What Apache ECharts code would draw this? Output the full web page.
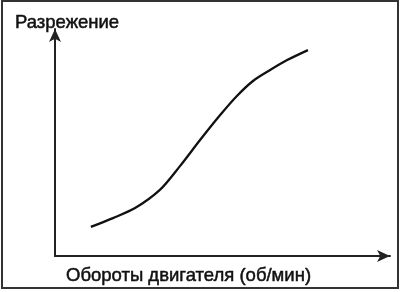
<!DOCTYPE html>
<html><head><meta charset="utf-8">
<script src="https://cdn.jsdelivr.net/npm/echarts@6/dist/echarts.min.js"></script>
<style>html,body{margin:0;padding:0;background:#fff}#c{width:400px;height:292px}</style>
</head><body><div id="c"></div>
<script>
const yTitle = "Разрежение";
const xTitle = "Обороты двигателя (об/мин)";
const rpm = [10.7, 17.3, 23.9, 31.3, 37.3, 43.3, 49.3, 54.3, 59.1, 64.2, 69.3, 75.5];
const vacuum = [12.8, 16.7, 21.1, 29.1, 39.6, 51.1, 62.1, 70.5, 77.1, 81.9, 86.3, 90.7];

const chart = echarts.init(document.getElementById('c'), null, {renderer: 'canvas'});
const font = '"Liberation Sans", Arial, sans-serif';
const ts = {fontFamily: font, fontSize: 18.5, fontWeight: 'normal', color: '#111', textBorderColor: '#111', textBorderWidth: 0.5};
chart.setOption({
  animation: false,
  backgroundColor: '#fff',
  grid: {left: 55, right: 10, top: 29, bottom: 36},
  title: [
    {text: yTitle, left: 10, top: 8, textStyle: ts},
    {text: xTitle, left: 61, top: 261, textStyle: ts}
  ],
  xAxis: {
    type: 'value', min: 0, max: 100,
    axisLine: {show: true, symbol: ['none', 'arrow'], symbolSize: [9, 13], lineStyle: {color: '#222', width: 2}},
    axisTick: {show: false}, axisLabel: {show: false}, splitLine: {show: false}
  },
  yAxis: {
    type: 'value', min: 0, max: 100,
    axisLine: {show: true, symbol: ['none', 'arrow'], symbolSize: [9, 13], lineStyle: {color: '#222', width: 2}},
    axisTick: {show: false}, axisLabel: {show: false}, splitLine: {show: false}
  },
  series: [{
    type: 'line', smooth: 0.3, showSymbol: false,
    data: rpm.map((x, i) => [x, vacuum[i]]),
    lineStyle: {color: '#111', width: 2.3}
  }],
  graphic: [{
    type: 'rect', shape: {x: 2, y: 1, width: 396, height: 287},
    style: {fill: 'none', stroke: '#333', lineWidth: 2}, silent: true
  }]
});
</script></body></html>
